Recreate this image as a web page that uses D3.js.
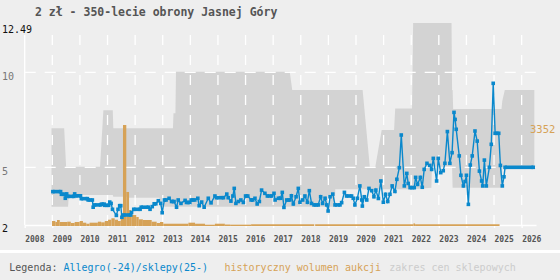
<!DOCTYPE html>
<html>
<head>
<meta charset="utf-8">
<script src="https://cdn.jsdelivr.net/npm/d3@7"></script>
<style>
  body { margin: 0; background: #fff; }
  svg { display: block; font-family: "DejaVu Sans Mono", monospace; }
</style>
</head>
<body>
<div id="chart"></div>
<script>
// chart size
const width = 560;
const height = 280;

// --- data ---
const title = "2 zł - 350-lecie obrony Jasnej Góry";
const yearTicks = d3.range(2008, 2027);
const yLabels = [12.49, 10, 5, 2];
const yGrid = [10, 5];

// allegro prices (year, zł)
const allegroPoints = [
  [2009.02,3.72],[2009.30,3.72],[2009.33,3.58],[2009.45,3.58],[2009.47,3.37],[2009.52,3.60],
  [2009.56,3.47],[2009.78,3.47],[2009.81,3.60],[2009.86,3.50],[2010.02,3.50],[2010.05,3.35],
  [2010.27,3.35],[2010.30,3.28],[2010.45,3.28],[2010.48,2.90],[2010.53,3.02],[2010.75,3.02],
  [2010.78,3.06],[2010.88,3.06],[2010.90,3.00],[2011.04,3.00],[2011.08,3.17],[2011.13,3.10],
  [2011.18,2.79],[2011.32,2.47],[2011.38,2.79],[2011.44,2.98],[2011.48,2.98],[2011.52,2.37],
  [2011.58,2.49],[2011.84,2.49],[2011.87,2.62],[2011.95,2.79],[2012.18,2.79],[2012.22,2.90],
  [2012.48,2.90],[2012.54,2.79],[2012.62,2.93],[2012.69,3.08],[2012.75,3.08],[2012.84,3.24],
  [2012.93,3.10],[2012.98,2.61],[2013.06,3.28],[2013.12,3.28],[2013.23,3.37],[2013.32,3.20],
  [2013.41,3.20],[2013.50,2.90],[2013.56,3.28],[2013.66,3.10],[2013.81,3.26],[2013.86,3.15],
  [2013.98,3.15],[2014.03,3.28],[2014.16,3.28],[2014.27,3.37],[2014.32,2.98],[2014.41,3.17],
  [2014.50,2.90],[2014.65,3.37],[2014.75,3.13],[2014.89,3.49],[2014.95,3.40],[2015.20,3.40],
  [2015.32,3.59],[2015.37,3.40],[2015.47,3.22],[2015.54,3.49],[2015.59,3.89],[2015.65,3.10],
  [2015.74,3.20],[2015.83,3.28],[2015.92,3.15],[2016.00,3.49],[2016.08,3.49],[2016.20,3.28],
  [2016.26,3.28],[2016.34,3.37],[2016.42,3.07],[2016.50,3.20],[2016.58,3.80],[2016.70,3.63],
  [2016.79,3.49],[2016.95,3.49],[2017.03,3.63],[2017.07,3.28],[2017.19,3.37],[2017.27,3.37],
  [2017.33,3.68],[2017.39,2.89],[2017.49,3.28],[2017.61,3.28],[2017.66,3.50],[2017.73,3.07],
  [2017.83,3.45],[2017.91,3.89],[2017.97,3.16],[2018.07,3.28],[2018.15,3.49],[2018.24,3.16],
  [2018.31,3.77],[2018.39,3.10],[2018.48,3.02],[2018.63,3.02],[2018.72,3.45],[2018.79,3.10],
  [2018.88,3.37],[2018.94,3.02],[2018.99,2.70],[2019.06,3.45],[2019.16,3.59],[2019.24,3.02],
  [2019.42,3.02],[2019.48,3.14],[2019.58,3.68],[2019.66,3.49],[2019.84,3.49],[2019.90,3.37],
  [2019.96,3.02],[2020.05,3.37],[2020.14,4.02],[2020.21,3.28],[2020.23,2.96],[2020.30,3.45],
  [2020.39,3.28],[2020.47,3.89],[2020.57,3.77],[2020.65,3.45],[2020.72,3.80],[2020.81,3.36],
  [2020.90,4.28],[2020.99,3.16],[2021.07,3.58],[2021.15,3.20],[2021.23,3.58],[2021.31,4.02],
  [2021.41,3.73],[2021.48,4.37],[2021.57,4.98],[2021.64,6.70],[2021.75,4.02],[2021.84,4.68],
  [2021.89,4.15],[2021.96,3.93],[2022.11,3.93],[2022.16,4.47],[2022.23,4.10],[2022.33,4.47],
  [2022.40,3.95],[2022.47,4.89],[2022.57,5.21],[2022.67,5.10],[2022.74,4.89],[2022.80,5.47],
  [2022.92,4.28],[2022.98,5.47],[2023.07,4.72],[2023.16,4.82],[2023.22,5.21],[2023.31,6.88],
  [2023.40,5.21],[2023.48,5.77],[2023.55,7.89],[2023.59,7.52],[2023.63,7.00],[2023.74,5.60],
  [2023.80,4.58],[2023.89,4.02],[2023.95,4.25],[2024.00,4.58],[2024.07,3.05],[2024.14,5.12],
  [2024.21,5.60],[2024.31,6.91],[2024.39,6.38],[2024.47,4.80],[2024.55,4.28],[2024.59,4.02],
  [2024.65,5.38],[2024.72,4.02],[2024.83,5.00],[2024.90,6.21],[2024.97,9.42],[2025.04,6.79],
  [2025.17,6.79],[2025.23,5.10],[2025.30,4.02],[2025.36,4.50]
];
// shop prices from 2025 on
const shopPoints = [[2025.40,5.00],[2026.42,5.00]];

// range of shop prices (year, low, high)
const bandYears = [2008.97,2009.43,2009.50,2009.57,2009.60,2010.73,2010.85,2011.19,2011.21,2011.72,
  2011.74,2012.88,2012.90,2013.37,2013.39,2013.46,2013.48,2017.60,2017.69,2019.23,2019.25,2020.24,
  2020.50,2020.70,2020.93,2021.38,2021.42,2022.03,2022.07,2022.73,2022.75,2023.46,2023.48,2023.50,
  2023.52,2025.27,2025.30,2025.39,2026.46];
const bandLow = [2.93,2.93,2.93,2.93,3.54,3.54,3.54,3.54,3.45,3.45,
  3.40,3.40,2.93,2.93,2.93,2.93,2.93,2.93,2.93,2.93,3.85,3.85,
  3.85,3.85,3.85,3.85,3.85,3.85,3.85,3.93,5.03,5.03,5.03,3.93,
  3.93,3.93,5.00,5.00,5.00];
const bandHigh = [7.05,7.05,5.03,5.03,5.03,5.03,8.00,8.00,7.05,7.05,
  7.05,7.05,7.05,7.05,7.85,7.85,10.03,10.03,9.07,9.07,9.07,9.07,
  5.03,5.03,6.96,6.96,8.10,8.10,12.60,12.60,12.60,12.60,9.07,9.07,
  8.07,8.07,8.50,9.07,9.07];

// auction volume bars: start year of each bar and its volume
const volStarts = [2008.99,2009.11,2009.17,2009.27,2009.54,2009.67,2009.81,2009.99,2010.11,2010.23,
  2010.35,2010.65,2010.77,2010.90,2011.02,2011.14,2011.26,2011.38,2011.48,2011.56,2011.68,2011.78,
  2011.86,2011.96,2012.04,2012.13,2012.28,2012.60,2012.78,2012.90,2013.02,2013.93,2014.17,2014.53,
  2014.89,2015.25,2015.44,2016.20,2018.49,2018.52,2022.08,2022.14];
const volValues = [166,133,199,133,143,100,133,166,110,76,
  110,143,122,166,209,256,209,166,398,3352,1129,531,
  365,365,299,222,199,143,100,133,76,110,76,43,
  76,50,45,58,0,58,85,58];
const volEnd = 2025.2;
const volMax = 3352;

// --- colours ---
const bg = "#eeeeee";
const blue = "#0a88cc";
const orange = "#d6a257";
const bandColor = "#d3d3d3";

const svg = d3.select("#chart")
  .append("svg")
    .attr("width", width)
    .attr("height", height);

// backgrounds: chart box and legend box
svg.append("rect").attr("x", 0).attr("y", 0).attr("width", width).attr("height", 250).attr("fill", bg);
svg.append("rect").attr("x", 0).attr("y", 253).attr("width", width).attr("height", 27).attr("fill", bg);

// scales
const x = d3.scaleLinear().domain([2008, 2026.52]).range([24.7, 536]);
const y = d3.scaleLinear().domain([2, 12.49]).range([224.3, 25]);
const yVol = d3.scaleLinear().domain([0, volMax]).range([226, 125]);

// shop price range band
const band = bandYears.map((d, i) => ({year: d, low: bandLow[i], high: bandHigh[i]}));
svg.append("path")
  .datum(band)
  .attr("fill", bandColor)
  .attr("d", d3.area()
    .x(d => x(d.year))
    .y0(d => y(d.low))
    .y1(d => y(d.high)));

// grid
svg.append("g")
  .selectAll("line")
  .data(yGrid)
  .join("line")
    .attr("x1", x(2008)).attr("x2", 536)
    .attr("y1", d => y(d)).attr("y2", d => y(d))
    .attr("stroke", "#fff")
    .attr("stroke-width", 1.3)
    .attr("stroke-dasharray", "11,9");

svg.append("g")
  .selectAll("line")
  .data(yearTicks.slice(1))
  .join("line")
    .attr("x1", d => x(d)).attr("x2", d => x(d))
    .attr("y1", 225).attr("y2", 35)
    .attr("stroke", "#fff")
    .attr("stroke-width", 1.3)
    .attr("stroke-dasharray", "10,10");

// y axis line
svg.append("line")
  .attr("x1", x(2008)).attr("x2", x(2008))
  .attr("y1", 35).attr("y2", 225)
  .attr("stroke", "#fff")
  .attr("stroke-width", 1.3);

// x axis
const xAxis = svg.append("g")
  .attr("transform", "translate(0,225)")
  .call(d3.axisBottom(x)
    .tickValues(yearTicks)
    .tickSize(3)
    .tickSizeOuter(0)
    .tickFormat(d3.format("d")));
xAxis.select(".domain").attr("stroke", "#fff").attr("stroke-width", 1.6);
xAxis.selectAll(".tick line").attr("stroke", "#fff").attr("stroke-width", 1.3);
xAxis.selectAll(".tick text")
  .attr("text-anchor", "start")
  .attr("x", 0)
  .attr("y", 16.7)
  .attr("dy", null)
  .attr("fill", "#555")
  .style("font-family", "DejaVu Sans Mono")
  .style("font-size", "8px")
  .style("font-weight", "bold");

// volume bars
const vols = volStarts.map((d, i) => ({
  start: d,
  end: i < volStarts.length - 1 ? volStarts[i + 1] : volEnd,
  value: volValues[i]
}));
svg.append("g")
  .selectAll("rect")
  .data(vols.filter(d => d.value > 0))
  .join("rect")
    .attr("x", d => x(d.start))
    .attr("width", d => x(d.end) - x(d.start))
    .attr("y", d => yVol(d.value))
    .attr("height", d => yVol(0) - yVol(d.value))
    .attr("fill", orange);

svg.append("text")
  .attr("x", 530)
  .attr("y", yVol(volMax) + 8)
  .attr("fill", orange)
  .style("font-size", "10.5px")
  .text(volMax);

// price line
const allPoints = allegroPoints.concat(shopPoints);
const line = d3.line().x(d => x(d[0])).y(d => y(d[1]));

svg.append("path")
  .datum(allPoints)
  .attr("fill", "none")
  .attr("stroke", blue)
  .attr("stroke-width", 1.4)
  .attr("d", line);

// flat runs (dense markers) drawn thick
const runs = d3.pairs(allPoints).filter(p => p[0][1] === p[1][1]);
svg.append("g")
  .selectAll("line")
  .data(runs)
  .join("line")
    .attr("x1", d => x(d[0][0])).attr("x2", d => x(d[1][0]))
    .attr("y1", d => y(d[0][1])).attr("y2", d => y(d[1][1]))
    .attr("stroke", blue)
    .attr("stroke-width", 3.6);

const ms = 3.6;
svg.append("g")
  .selectAll("rect")
  .data(allPoints)
  .join("rect")
    .attr("x", d => x(d[0]) - ms / 2)
    .attr("y", d => y(d[1]) - ms / 2)
    .attr("width", ms)
    .attr("height", ms)
    .attr("fill", blue);

// y labels
svg.append("g")
  .selectAll("text")
  .data(yLabels)
  .join("text")
    .attr("x", 2)
    .attr("y", d => y(d) + 7.6)
    .attr("fill", (d, i) => (i === 0 || i === yLabels.length - 1) ? "#111" : "#777")
    .style("font-size", "10px")
    .text(d => d);

// title
svg.append("text")
  .attr("x", 35)
  .attr("y", 16)
  .attr("fill", "#555")
  .style("font-size", "11.5px")
  .style("font-weight", "bold")
  .text(title);

// legend
const legend = svg.append("text")
  .attr("x", 9.3)
  .attr("y", 270.7)
  .style("font-size", "10px")
  .attr("xml:space", "preserve");
legend.append("tspan").attr("fill", "#555").text("Legenda: ");
legend.append("tspan").attr("fill", blue).text("Allegro(-24)/sklepy(25-)");

svg.append("text")
  .attr("x", 224.5).attr("y", 270.7)
  .attr("fill", orange)
  .style("font-size", "10px")
  .text("historyczny wolumen aukcji");

svg.append("text")
  .attr("x", 389.3).attr("y", 270.7)
  .attr("fill", "#cccccc")
  .style("font-size", "10px")
  .text("zakres cen sklepowych");
</script>
</body>
</html>
